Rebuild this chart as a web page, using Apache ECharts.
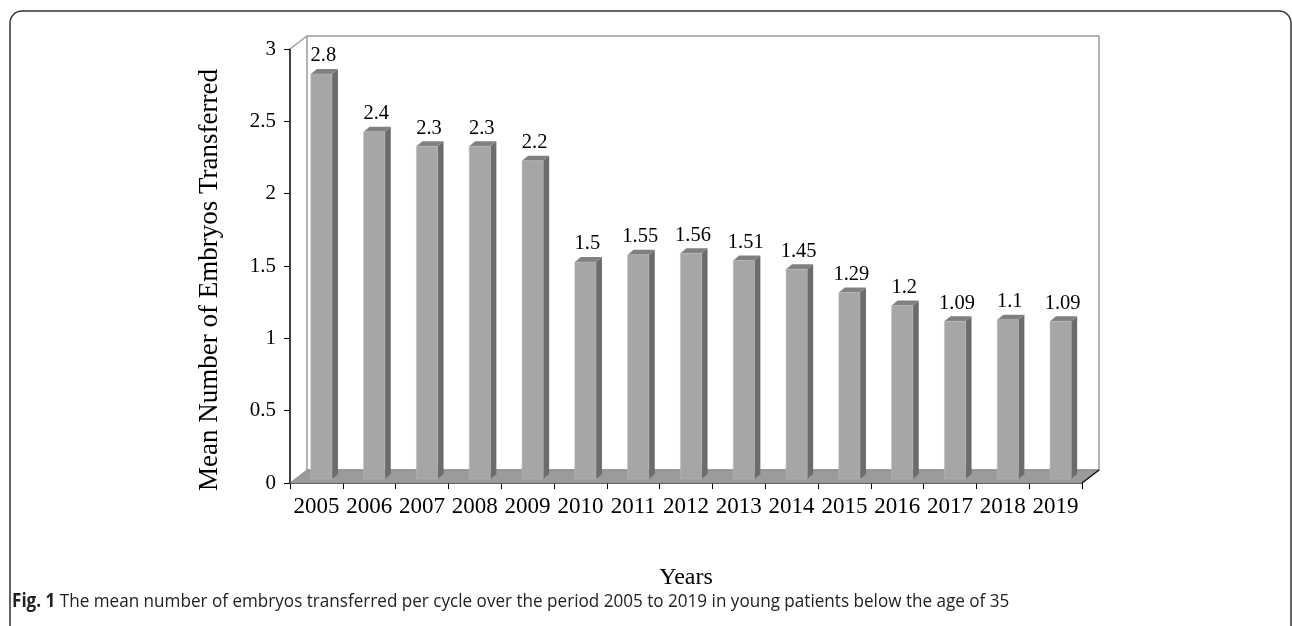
<!DOCTYPE html>
<html>
<head>
<meta charset="utf-8">
<style>
  html, body { margin: 0; padding: 0; background: #fff; }
  #main { width: 1292px; height: 626px; }
</style>
</head>
<body>
<div id="main"></div>
<script src="https://cdn.jsdelivr.net/npm/echarts@6/dist/echarts.min.js"></script>
<script>
// 数据
var years = ['2005', '2006', '2007', '2008', '2009', '2010', '2011', '2012', '2013', '2014', '2015', '2016', '2017', '2018', '2019'];
var meanEmbryos = [2.8, 2.4, 2.3, 2.3, 2.2, 1.5, 1.55, 1.56, 1.51, 1.45, 1.29, 1.2, 1.09, 1.1, 1.09];
var yMin = 0, yMax = 3, yStep = 0.5;

var serif = '"Liberation Serif", "Times New Roman", serif';

// 3D 深度偏移 (px)
var wallDepth = [17, -13];
var barFront = [5, -4];
var barBack = [11, -9];

function renderWalls(params, api) {
    var band = api.size([1, 0])[0];
    var p0 = api.coord([0, yMin]);
    var pN = api.coord([years.length - 1, yMin]);
    var left = p0[0] - band / 2, right = pN[0] + band / 2;
    var bottom = p0[1], top = api.coord([0, yMax])[1];
    var dx = wallDepth[0], dy = wallDepth[1];
    return {
        type: 'group',
        children: [
            // 背墙
            { type: 'polygon', shape: { points: [[left + dx, top + dy], [right + dx, top + dy], [right + dx, bottom + dy], [left + dx, bottom + dy]] },
              style: { fill: '#fff', stroke: '#9a9a9a', lineWidth: 1.5 } },
            // 左侧墙
            { type: 'line', shape: { x1: left, y1: top, x2: left + dx, y2: top + dy }, style: { stroke: '#9a9a9a', lineWidth: 1.5 } },
            // 地板
            { type: 'polygon', shape: { points: [[left, bottom], [right, bottom], [right + dx, bottom + dy], [left + dx, bottom + dy]] },
              style: { fill: '#9b9b9b', stroke: '#8a8a8a', lineWidth: 1 } },
            { type: 'line', shape: { x1: right, y1: bottom, x2: right + dx, y2: bottom + dy }, style: { stroke: '#111', lineWidth: 1.5 } }
        ]
    };
}

function renderBar(params, api) {
    var i = api.value(0), v = api.value(1);
    var base = api.coord([i, yMin]);
    var topP = api.coord([i, v]);
    var band = api.size([1, 0])[0];
    var w = band * 0.4;
    var x0 = base[0] - w / 2 + barFront[0], x1 = x0 + w;
    var yb = base[1] + barFront[1], yt = topP[1] + barFront[1];
    var ddx = barBack[0] - barFront[0], ddy = barBack[1] - barFront[1];
    return {
        type: 'group',
        children: [
            { type: 'polygon', shape: { points: [[x1, yb], [x1 + ddx, yb + ddy], [x1 + ddx, yt + ddy], [x1, yt]] },
              style: { fill: '#6c6c6c' } },
            { type: 'polygon', shape: { points: [[x0, yt], [x1, yt], [x1 + ddx, yt + ddy], [x0 + ddx, yt + ddy]] },
              style: { fill: '#808080' } },
            { type: 'rect', shape: { x: x0, y: yt, width: w, height: yb - yt },
              style: { fill: '#a6a6a6', stroke: '#b8b8b8', lineWidth: 0.5 } },
            { type: 'text', x: (x0 + x1) / 2 + 2, y: yt + ddy - 13,
              style: { text: String(v), fill: '#000', font: '20.5px ' + serif, align: 'center', verticalAlign: 'middle' } }
        ]
    };
}

var option = {
    animation: false,
    backgroundColor: '#fff',
    grid: { left: 290, top: 49, width: 792, height: 434, outerBoundsMode: 'none', containLabel: false },
    xAxis: {
        type: 'category',
        data: years,
        axisLine: { lineStyle: { color: '#000', width: 1.5 } },
        axisTick: { show: true, length: 6, lineStyle: { color: '#000' } },
        axisLabel: { color: '#000', fontFamily: serif, fontSize: 23, margin: 12, interval: 0 },
        name: 'Years',
        nameLocation: 'middle',
        nameGap: 83,
        nameTextStyle: { color: '#000', fontFamily: serif, fontSize: 24 }
    },
    yAxis: {
        type: 'value',
        min: yMin, max: yMax, interval: yStep,
        splitLine: { show: false },
        axisLine: { show: true, lineStyle: { color: '#000', width: 1.5 } },
        axisTick: { show: true, length: 6, lineStyle: { color: '#000' } },
        axisLabel: { color: '#000', fontFamily: serif, fontSize: 21, margin: 14 }
    },
    graphic: [
        { type: 'rect', shape: { x: 10, y: 11, width: 1281, height: 700, r: 12 },
          style: { fill: 'none', stroke: '#333', lineWidth: 1.5 }, z: 100 },
        // 纵轴标题
        { type: 'text', x: 210, y: 280, rotation: Math.PI / 2, z: 100,
          style: { text: 'Mean Number of Embryos Transferred', font: '27px ' + serif, fill: '#000',
                   align: 'center', verticalAlign: 'middle' } },
        { type: 'text', x: 12, y: 592, scaleX: 0.9, z: 100,
          style: {
              text: '{b|Fig. 1} The mean number of embryos transferred per cycle over the period 2005 to 2019 in young patients below the age of 35',
              font: '19px "Open Sans", sans-serif', fill: '#222',
              rich: { b: { font: 'bold 19px "Open Sans", sans-serif', fill: '#222' } }
          } }
    ],
    series: [
        { type: 'custom', renderItem: renderWalls, data: [[0, 0]], clip: false, z: 1, silent: true },
        { type: 'custom', renderItem: renderBar, clip: false, z: 2,
          data: meanEmbryos.map(function (v, i) { return [i, v]; }) }
    ]
};

var myChart = echarts.init(document.getElementById('main'));
myChart.setOption(option);
</script>
</body>
</html>
